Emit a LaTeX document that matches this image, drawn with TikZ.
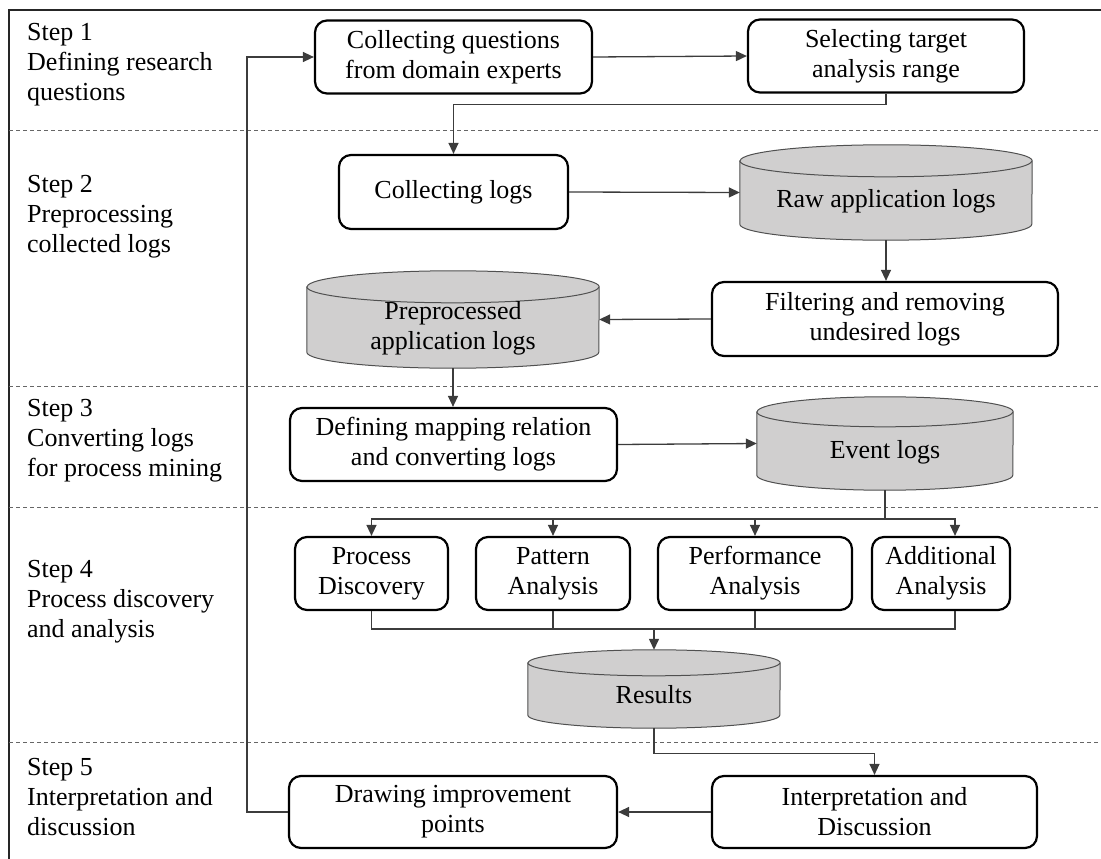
\documentclass[tikz,border=0pt]{standalone}
\usepackage{fontspec}
\setmainfont{Liberation Serif}
\usepackage{xcolor}
\usepackage{tikz}
\usetikzlibrary{positioning}
\usetikzlibrary{calc}
\usetikzlibrary{arrows.meta}

\definecolor{dbfill}{RGB}{208,207,207}
\definecolor{dbline}{RGB}{80,80,80}
\definecolor{lnk}{RGB}{60,60,60}

% cylinder around an (empty) body node: name, half width, cap radius
\newcommand{\dbdraw}[3]{%
  \filldraw[db] ([yshift=-#3]#1.north west) -- ([yshift=#3]#1.south west)
    arc[start angle=180, end angle=360, x radius=#2, y radius=#3]
    -- ([yshift=-#3]#1.north east)
    arc[start angle=0, end angle=180, x radius=#2, y radius=#3] -- cycle;
  \draw[db] ([yshift=-#3]#1.north west)
    arc[start angle=180, end angle=360, x radius=#2, y radius=#3];
}

\begin{document}
\begin{tikzpicture}
  [
    x=1pt, y=1pt,
    every node/.style={
       font=\fontsize{26}{30}\selectfont
    },
    box/.style={
       draw=black,
       line width=2.2pt,
       rounded corners=12pt,
       fill=white,
       align=center,
       inner sep=0pt,
       minimum height=73pt
    },
    dbbody/.style={
       inner sep=0pt
    },
    db/.style={
       fill=dbfill,
       draw=dbline,
       line width=1pt
    },
    dbtext/.style={
       align=center,
       inner sep=0pt
    },
    steplabel/.style={
       anchor=west,
       align=left,
       inner sep=0pt
    },
    sep/.style={
       draw=black!60,
       line width=1pt,
       dash pattern=on 4pt off 3pt
    },
    frame/.style={
       draw=black!85,
       line width=2.4pt
    },
    ln/.style={
       draw=lnk,
       line width=1.3pt
    },
    ar/.style={
       ln,
       -{Triangle[length=11pt,width=10pt]}
    }
  ]
  \useasboundingbox (0,0) rectangle (1101,-859);

  \draw [frame] (9,-859) -- (9,-10) -- (1101,-10);
  \draw [sep] (9,-130) -- (1101,-130);
  \draw [sep] (9,-386) -- (1101,-386);
  \draw [sep] (9,-507) -- (1101,-507);
  \draw [sep] (9,-742) -- (1101,-742);

  \node (s1) at (27,-65)  [steplabel] {Step 1\\Defining research\\questions};
  \node (s2) at (27,-217) [steplabel] {Step 2\\Preprocessing\\collected logs};
  \node (s3) at (27,-441) [steplabel] {Step 3\\Converting logs\\for process mining};
  \node (s4) at (27,-602) [steplabel] {Step 4\\Process discovery\\and analysis};
  \node (s5) at (27,-797) [steplabel] {Step 5\\Interpretation and\\discussion};

  \node (quest)  at (453.5,-57)  [box, minimum width=277pt] {Collecting questions\\from domain experts};
  \node (select) at (886,-56)    [box, minimum width=276pt] {Selecting target\\analysis range};
  \node (collect) at (453.5,-192) [box, minimum width=229pt, minimum height=74pt] {Collecting logs};
  \node (filter) at (885,-319)   [box, minimum width=346pt, minimum height=74pt] {Filtering and removing\\undesired logs};
  \node (mapping) at (453.5,-444.5) [box, minimum width=327pt] {Defining mapping relation\\and converting logs};
  \node (procdisc) at (371.5,-573.5) [box, minimum width=153pt] {Process\\Discovery};
  \node (pattern)  at (553,-573.5)   [box, minimum width=154pt] {Pattern\\Analysis};
  \node (perform)  at (755,-573.5)   [box, minimum width=194pt] {Performance\\Analysis};
  \node (addit)    at (941,-573.5)   [box, minimum width=138pt] {Additional\\Analysis};
  \node (improve) at (453,-812)  [box, minimum width=328pt, minimum height=72pt] {Drawing improvement\\points};
  \node (interp)  at (874.5,-812) [box, minimum width=325pt, minimum height=72pt] {Interpretation and\\Discussion};

  \node (rawlogs) at (886,-192.5) [dbbody, minimum width=292pt, minimum height=95pt] {};
  \dbdraw{rawlogs}{146pt}{16pt}
  \node (rawtext) at ([yshift=-9pt]rawlogs.center) [dbtext] {Raw application logs};

  \node (prelogs) at (453,-319.5) [dbbody, minimum width=292pt, minimum height=97pt] {};
  \dbdraw{prelogs}{146pt}{16pt}
  \node (pretext) at ([yshift=-9pt]prelogs.center) [dbtext] {Preprocessed\\application logs};

  \node (evlogs) at (885,-443.5) [dbbody, minimum width=256pt, minimum height=93pt] {};
  \dbdraw{evlogs}{128pt}{15pt}
  \node (evtext) at ([yshift=-9pt]evlogs.center) [dbtext] {Event logs};

  \node (results) at (654,-689) [dbbody, minimum width=252pt, minimum height=78pt] {};
  \dbdraw{results}{126pt}{13pt}
  \node (restext) at ([yshift=-6pt]results.center) [dbtext] {Results};

  \coordinate (split) at (885,-519);
  \coordinate (merge) at (654,-629);

  \draw [ar] (quest.east) -- (select.west);
  \draw [ar] (select.south) -- ++(0,-11) -| (collect.north);
  \draw [ar] (collect.east) -- (rawlogs.west);
  \draw [ar] (rawlogs.south) -- (rawlogs.south |- filter.north);
  \draw [ar] (filter.west) -- (prelogs.east);
  \draw [ar] (prelogs.south) -- (prelogs.south |- mapping.north);
  \draw [ar] (mapping.east) -- (evlogs.west);

  \draw [ln] (evlogs.south) -- (split);
  \draw [ar] (split) -| (procdisc.north);
  \draw [ar] (split) -| (pattern.north);
  \draw [ar] (split) -| (perform.north);
  \draw [ar] (split) -| ([xshift=14pt]addit.north);

  \draw [ln] (procdisc.south) |- (merge);
  \draw [ln] (pattern.south) |- (merge);
  \draw [ln] (perform.south) |- (merge);
  \draw [ln] ([xshift=14pt]addit.south) |- (merge);
  \draw [ar] (merge) -- (results.north);

  \draw [ar] (results.south) -- ++(0,-25) -| (interp.north);
  \draw [ar] (interp.west) -- (improve.east);
  \draw [ar] (improve.west) -- ++(-41,0) |- (quest.west);
\end{tikzpicture}
\end{document}
